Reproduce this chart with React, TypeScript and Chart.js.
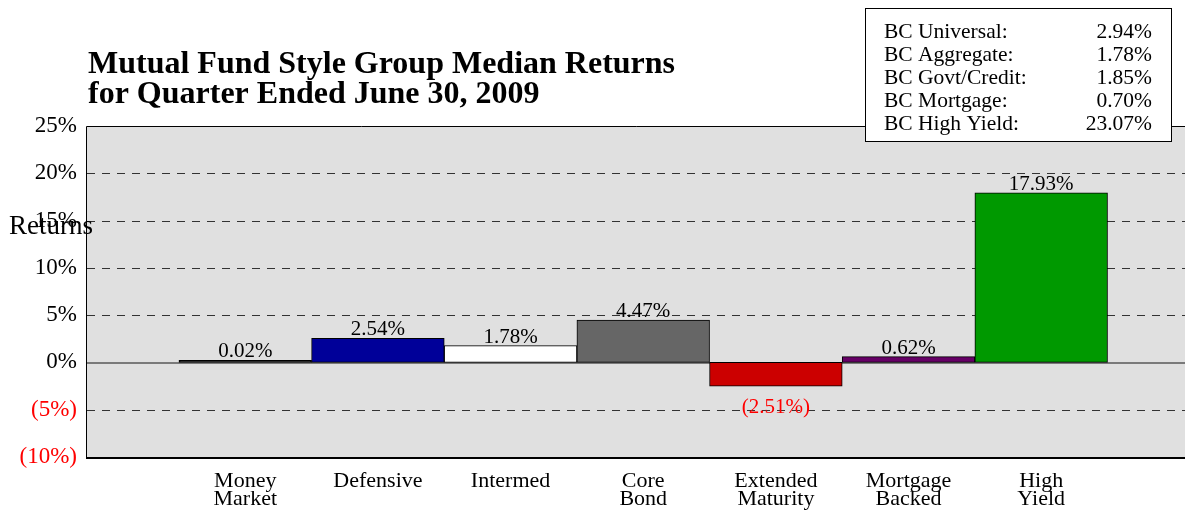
import React, { useEffect, useRef } from 'react';
import { Chart, registerables } from 'chart.js';

Chart.register(...registerables);

const categories = ['Money Market', 'Defensive', 'Intermed', 'Core Bond', 'Extended Maturity', 'Mortgage Backed', 'High Yield'];
const categoryLines = [['Money', 'Market'], ['Defensive'], ['Intermed'], ['Core', 'Bond'], ['Extended', 'Maturity'], ['Mortgage', 'Backed'], ['High', 'Yield']];
const returns = [0.02, 2.54, 1.78, 4.47, -2.51, 0.62, 17.93];
const barColors = ['#000000', '#000099', '#ffffff', '#666666', '#cc0000', '#660066', '#009900'];
const yTicks = [-10, -5, 0, 5, 10, 15, 20, 25];
const benchmarkNames = ['BC Universal:', 'BC Aggregate:', 'BC Govt/Credit:', 'BC Mortgage:', 'BC High Yield:'];
const benchmarkValues = [2.94, 1.78, 1.85, 0.7, 23.07];
const titleLines = ['Mutual Fund Style Group Median Returns', 'for Quarter Ended June 30, 2009'];
const yAxisTitle = 'Returns';

const SERIF = '"Liberation Serif", "Times New Roman", Times, serif';

const fmtValue = (v: number) => (v < 0 ? `(${Math.abs(v).toFixed(2)}%)` : `${v.toFixed(2)}%`);
const fmtTick = (v: number) => (v < 0 ? `(${Math.abs(v)}%)` : `${v}%`);

const decor = {
  id: 'decor',
  beforeDraw(chart: any) {
    const { ctx, chartArea: a } = chart;
    ctx.save();
    ctx.fillStyle = '#e0e0e0';
    ctx.fillRect(a.left, a.top, a.right - a.left, a.bottom - a.top);
    ctx.restore();
  },
  beforeDatasetsDraw(chart: any) {
    const { ctx, chartArea: a, scales } = chart;
    const y = scales.y;
    ctx.save();
    yTicks.forEach((v) => {
      if (v === yTicks[0] || v === yTicks[yTicks.length - 1]) return;
      const py = Math.round(y.getPixelForValue(v));
      ctx.beginPath();
      if (v === 0) {
        ctx.setLineDash([]);
        ctx.strokeStyle = '#7a7a7a';
        ctx.lineWidth = 2;
        ctx.moveTo(a.left, py + 1);
        ctx.lineTo(a.right, py + 1);
      } else {
        ctx.setLineDash([8, 7]);
        ctx.strokeStyle = '#333333';
        ctx.lineWidth = 1;
        ctx.moveTo(a.left, py + 0.5);
        ctx.lineTo(a.right, py + 0.5);
      }
      ctx.stroke();
    });
    ctx.restore();
  },
  afterDatasetsDraw(chart: any) {
    const { ctx, chartArea: a } = chart;
    ctx.save();
    // plot border
    ctx.setLineDash([]);
    ctx.strokeStyle = '#000000';
    ctx.lineWidth = 1;
    ctx.beginPath();
    ctx.moveTo(a.right + 2, a.top + 0.5);
    ctx.lineTo(a.left - 0.5, a.top + 0.5);
    ctx.lineTo(a.left - 0.5, a.bottom);
    ctx.stroke();
    ctx.lineWidth = 2;
    ctx.beginPath();
    ctx.moveTo(a.left - 1, a.bottom + 1);
    ctx.lineTo(a.right + 2, a.bottom + 1);
    ctx.stroke();

    // value labels
    const meta = chart.getDatasetMeta(0);
    ctx.font = `21px ${SERIF}`;
    ctx.textAlign = 'center';
    ctx.textBaseline = 'alphabetic';
    meta.data.forEach((bar: any, i: number) => {
      const v = returns[i];
      const p = bar.getProps(['x', 'y', 'base'], true);
      if (v >= 0) {
        ctx.fillStyle = '#000000';
        ctx.fillText(fmtValue(v), p.x, Math.min(p.y, p.base) - 3);
      } else {
        ctx.fillStyle = '#ff0000';
        ctx.fillText(fmtValue(v), p.x, Math.max(p.y, p.base) + 27);
      }
    });
    ctx.restore();
  },
  afterDraw(chart: any) {
    const { ctx } = chart;
    ctx.save();
    // title
    ctx.fillStyle = '#000000';
    ctx.textAlign = 'left';
    ctx.textBaseline = 'alphabetic';
    ctx.font = `bold 32px ${SERIF}`;
    ctx.fillText(titleLines[0], 88, 73);
    ctx.fillText(titleLines[1], 88, 103);

    // axis title
    ctx.font = `27px ${SERIF}`;
    ctx.fillText(yAxisTitle, 9, 234);

    // benchmark box
    ctx.fillStyle = '#ffffff';
    ctx.fillRect(865, 8, 307, 134);
    ctx.strokeStyle = '#000000';
    ctx.lineWidth = 1;
    ctx.strokeRect(865.5, 8.5, 306, 133);
    ctx.font = `21.5px ${SERIF}`;
    ctx.fillStyle = '#000000';
    benchmarkNames.forEach((name, i) => {
      const by = 37.5 + i * 23.2;
      ctx.textAlign = 'left';
      ctx.fillText(name, 884, by);
      ctx.textAlign = 'right';
      ctx.fillText(`${benchmarkValues[i].toFixed(2)}%`, 1152, by);
    });
    ctx.restore();
  },
};

export default function App() {
  const ref = useRef<HTMLCanvasElement | null>(null);

  useEffect(() => {
    document.body.style.margin = '0';
    const canvas = ref.current;
    if (!canvas) return;
    const chart = new Chart(canvas, {
      type: 'bar',
      data: {
        datasets: [
          {
            label: 'Median Return',
            data: categories.map((_, i) => ({ x: i + 1, y: returns[i] })),
            backgroundColor: barColors,
            borderColor: '#000000',
            borderWidth: 1,
            borderSkipped: false,
            barPercentage: 1,
            categoryPercentage: 1,
            minBarLength: 2,
          },
        ],
      },
      options: {
        animation: false,
        responsive: false,
        devicePixelRatio: 1,
        layout: { padding: { top: 126, left: 0, right: 0, bottom: 0 } },
        plugins: {
          legend: { display: false },
          title: { display: false },
          tooltip: { enabled: false },
        },
        scales: {
          x: {
            type: 'linear',
            offset: false,
            min: -0.193,
            max: 8.084,
            afterBuildTicks: (s: any) => {
              s.ticks = categories.map((_, i) => ({ value: i + 1 }));
            },
            afterFit: (s: any) => {
              s.height = 54;
            },
            grid: { display: false, drawTicks: false, offset: false },
            border: { display: false },
            ticks: {
              padding: 15,
              color: '#000000',
              autoSkip: false,
              maxRotation: 0,
              minRotation: 0,
              font: { family: SERIF, size: 22, lineHeight: '18px' },
              callback: (v: any) => categoryLines[Math.round(v) - 1] ?? '',
            },
          },
          y: {
            type: 'linear',
            min: -10,
            max: 25,
            afterBuildTicks: (s: any) => {
              s.ticks = yTicks.map((v) => ({ value: v }));
            },
            afterFit: (s: any) => {
              s.width = 87;
            },
            grid: { display: false, drawTicks: false },
            border: { display: false },
            ticks: {
              padding: 10,
              color: (c: any) => (c.tick && c.tick.value < 0 ? '#ff0000' : '#000000'),
              font: { family: SERIF, size: 23 },
              callback: (v: any) => fmtTick(Number(v)),
            },
          },
        },
      },
      plugins: [decor],
    });
    return () => chart.destroy();
  }, []);

  return (
    <div style={{ width: 1185, height: 511, position: 'relative' }}>
      <canvas ref={ref} width={1185} height={511} style={{ display: 'block' }} />
    </div>
  );
}
